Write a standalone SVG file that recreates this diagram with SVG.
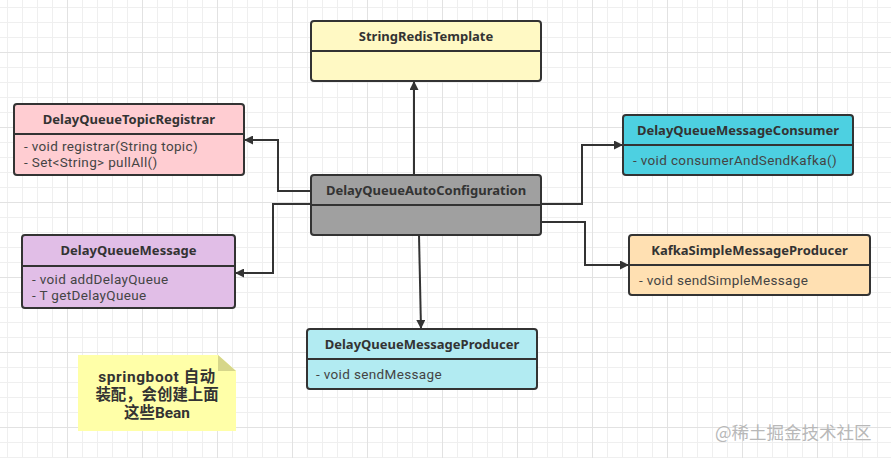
<svg xmlns="http://www.w3.org/2000/svg" width="891" height="458" viewBox="0 0 891 458">
<defs>
<pattern id="minor" width="15" height="15" patternUnits="userSpaceOnUse" x="7" y="7">
<path d="M0 0.5H15M0.5 0V15" fill="none" stroke="#efefef" stroke-width="1"/>
</pattern>
<pattern id="major" width="75" height="75" patternUnits="userSpaceOnUse" x="67" y="52">
<path d="M0 0.5H75M0.5 0V75" fill="none" stroke="#e2e2e2" stroke-width="1"/>
</pattern>
<marker id="arr" viewBox="0 0 10 10" refX="10" refY="5" markerWidth="11" markerHeight="9" markerUnits="userSpaceOnUse" orient="auto">
<path d="M0 0L10 5L0 10Z" fill="#333"/>
</marker>
</defs>
<style>
.box{stroke:#333;stroke-width:2}
.div{stroke:#333;stroke-width:2}
.t{font-family:"Noto Sans","Noto Sans CJK SC",sans-serif;font-size:13px;font-weight:bold;fill:#333;text-anchor:middle}
.m{font-family:Roboto,"Noto Sans CJK SC",sans-serif;font-size:13.5px;letter-spacing:0.35px;fill:#444}
.c{fill:none;stroke:#333;stroke-width:2;marker-end:url(#arr)}
</style>
<rect width="891" height="458" fill="#fff"/>
<rect width="891" height="458" fill="url(#minor)"/>
<rect width="891" height="458" fill="url(#major)"/>

<g id="connectors">
<path class="c" d="M414 175V81"/>
<path class="c" d="M311 191H278V140H244"/>
<path class="c" d="M311 204H273V273H235"/>
<path class="c" d="M541 204H582V145H623"/>
<path class="c" d="M541 222H585V265H629"/>
<path class="c" d="M419 235L421 329"/>
</g>

<g id="StringRedisTemplate">
<rect class="box" x="311" y="21" width="230" height="60" rx="3" fill="#fff9c4"/>
<line class="div" x1="311" y1="51" x2="541" y2="51"/>
<text class="t" x="426" y="41">StringRedisTemplate</text>
</g>

<g id="DelayQueueTopicRegistrar">
<rect class="box" x="14" y="104" width="230" height="71" rx="3" fill="#ffcdd2"/>
<line class="div" x1="14" y1="134" x2="244" y2="134"/>
<text class="t" x="129" y="124">DelayQueueTopicRegistrar</text>
<text class="m" x="24" y="151">- void registrar(String topic)</text>
<text class="m" x="24" y="167">- Set&lt;String&gt; pullAll()</text>
</g>

<g id="DelayQueueMessage">
<rect class="box" x="22" y="235" width="213" height="73" rx="3" fill="#e1bee7"/>
<line class="div" x1="22" y1="266" x2="235" y2="266"/>
<text class="t" x="128.5" y="255">DelayQueueMessage</text>
<text class="m" x="32" y="284">- void addDelayQueue</text>
<text class="m" x="32" y="300">- T getDelayQueue</text>
</g>

<g id="DelayQueueAutoConfiguration">
<rect class="box" x="311" y="175" width="230" height="60" rx="3" fill="#a0a0a0"/>
<line class="div" x1="311" y1="205" x2="541" y2="205"/>
<text class="t" x="426" y="195">DelayQueueAutoConfiguration</text>
</g>

<g id="DelayQueueMessageConsumer">
<rect class="box" x="623" y="115" width="230" height="60" rx="3" fill="#4dd0e1"/>
<line class="div" x1="623" y1="145" x2="853" y2="145"/>
<text class="t" x="738" y="135">DelayQueueMessageConsumer</text>
<text class="m" x="633" y="165">- void consumerAndSendKafka()</text>
</g>

<g id="KafkaSimpleMessageProducer">
<rect class="box" x="629" y="235" width="241" height="60" rx="3" fill="#ffe0b2"/>
<line class="div" x1="629" y1="265" x2="870" y2="265"/>
<text class="t" x="749.5" y="255">KafkaSimpleMessageProducer</text>
<text class="m" x="639" y="285">- void sendSimpleMessage</text>
</g>

<g id="DelayQueueMessageProducer">
<rect class="box" x="307" y="329" width="230" height="60" rx="3" fill="#b2ebf2"/>
<line class="div" x1="307" y1="359" x2="537" y2="359"/>
<text class="t" x="422" y="349">DelayQueueMessageProducer</text>
<text class="m" x="316" y="379">- void sendMessage</text>
</g>

<g id="note">
<path d="M78 355H218L236 371V431H78Z" fill="#ffffa8"/>
<path d="M218 355L236 371H218Z" fill="#d6d68a"/>
<g font-family="Roboto,'Noto Sans CJK SC',sans-serif" font-size="15.4" font-weight="bold" fill="#333" text-anchor="middle">
<text x="157" y="382" letter-spacing="0.6">springboot 自动</text>
<text x="157" y="400">装配，会创建上面</text>
<text x="157" y="418">这些Bean</text>
</g>
</g>

<text x="715" y="439" font-family="'Noto Sans CJK SC',sans-serif" font-size="17.5" fill="#b8b8b8">@稀土掘金技术社区</text>
</svg>
